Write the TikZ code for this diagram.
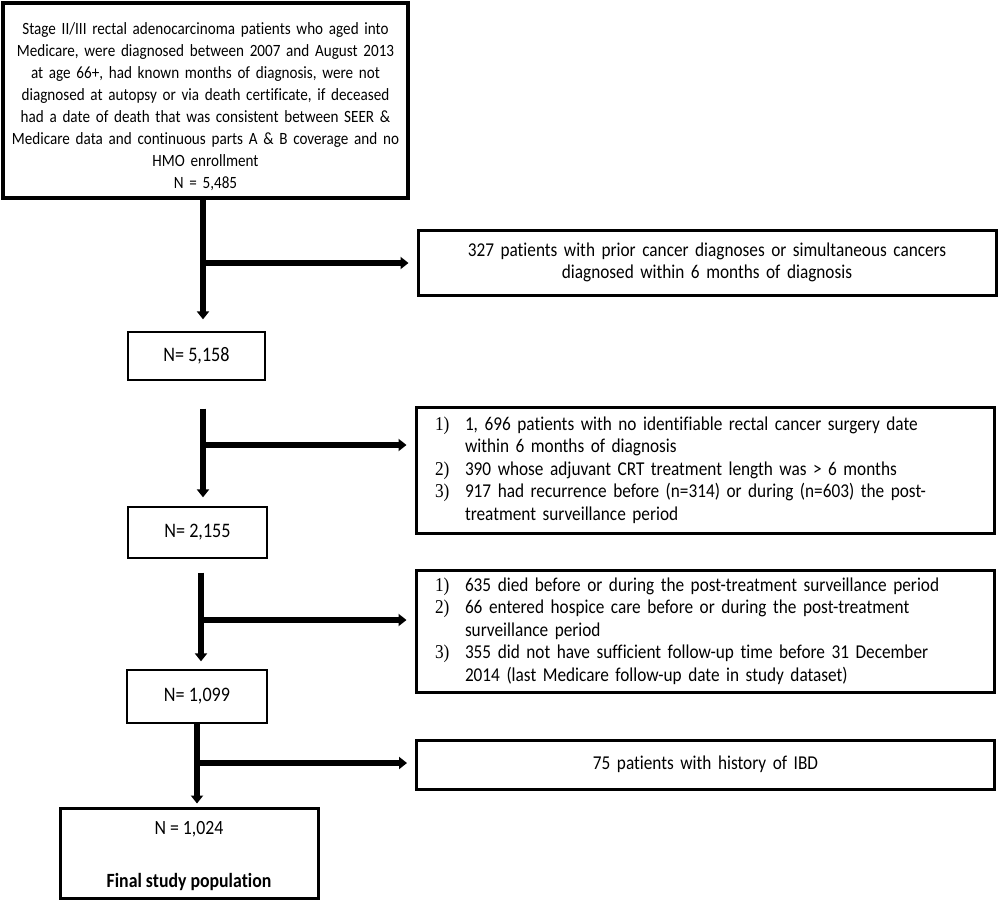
\documentclass[tikz,border=0pt]{standalone}
\usepackage{fontspec}
\setmainfont[FakeStretch=0.88,Ligatures=NoCommon]{Carlito}
\newfontfamily\numfont[FakeStretch=0.88]{Liberation Serif}
\usetikzlibrary{arrows.meta}
\newcommand{\lbl}[1]{\makebox[30pt][l]{\numfont #1}}
\newcommand{\ind}{\hspace*{30pt}}
\begin{document}
\begin{tikzpicture}[x=1pt,y=-1pt,
  box/.style={draw, rectangle, inner sep=0pt, align=center},
  mainbox/.style={box, line width=4pt, text width=404pt, minimum width=405pt, minimum height=195pt, font=\fontsize{17.2}{22.1}\selectfont},
  sidebox/.style={box, line width=3pt, text width=540pt, minimum width=578pt, font=\fontsize{19.6}{22.4}\selectfont},
  countbox/.style={box, line width=1.3pt, font=\fontsize{20.6}{22}\selectfont},
  finalbox/.style={box, line width=3pt, minimum width=258pt, minimum height=90pt, font=\fontsize{20.2}{22}\selectfont},
  flow/.style={line width=6pt, -{Triangle[width=12pt,length=8pt]}}
]
\useasboundingbox (0,0) rectangle (999,903);

\node[mainbox] (top) at (205.5,100.5) {\rule{0pt}{24pt}Stage II/III rectal adenocarcinoma patients who aged into\\
Medicare, were diagnosed between 2007 and August 2013\\
at age 66+, had known months of diagnosis, were not\\
diagnosed at autopsy or via death certificate, if deceased\\
had a date of death that was consistent between SEER \&\\
Medicare data and continuous parts A \& B coverage and no\\
HMO enrollment\\
N = 5,485};

\node[sidebox, minimum height=65pt] (r1) at (707,262.5) {327 patients with prior cancer diagnoses or simultaneous cancers\\
diagnosed within 6 months of diagnosis};

\node[countbox, minimum width=137pt, minimum height=48pt] (b1) at (196.5,356) {N= 5,158};

\node[sidebox, align=left, minimum height=126pt] (r2) at (705,470) {\lbl{1)}1, 696 patients with no identifiable rectal cancer surgery date\\
\ind within 6 months of diagnosis\\
\lbl{2)}390 whose adjuvant CRT treatment length was > 6 months\\
\lbl{3)}917 had recurrence before (n=314) or during (n=603) the post-\\
\ind treatment surveillance period};

\node[countbox, minimum width=139pt, minimum height=51pt] (b2) at (197.5,532.5) {N= 2,155};

\node[sidebox, align=left, minimum height=122pt] (r3) at (705,631) {\lbl{1)}635 died before or during the post-treatment surveillance period\\
\lbl{2)}66 entered hospice care before or during the post-treatment\\
\ind surveillance period\\
\lbl{3)}355 did not have sufficient follow-up time before 31 December\\
\ind 2014 (last Medicare follow-up date in study dataset)};

\node[countbox, minimum width=140pt, minimum height=53pt] (b3) at (197,696.5) {N= 1,099};

\node[sidebox, minimum height=49pt] (r4) at (705.5,764.5) {75 patients with history of IBD};

\node[finalbox] (fin) at (189,853) {\rule{0pt}{20pt}N = 1,024\\[31pt]\textbf{Final study population}};

\coordinate (j1) at (203,263);
\coordinate (j2) at (203,445);
\coordinate (j3) at (201,620);
\coordinate (j4) at (197,763);

\draw[flow] (top.south -| j1) -- ([yshift=12pt]b1.north -| j1);
\draw[flow] (j1) -- ([xshift=-8pt]r1.west |- j1);

\draw[flow] ([yshift=-28pt]b1.south -| j2) -- ([yshift=9pt]b2.north -| j2);
\draw[flow] (j2) -- ([xshift=-8pt]r2.west |- j2);

\draw[flow] ([yshift=-14pt]b2.south -| j3) -- ([yshift=8pt]b3.north -| j3);
\draw[flow] (j3) -- ([xshift=-8pt]r3.west |- j3);

\draw[flow] (b3.south -| j4) -- ([yshift=3pt]fin.north -| j4);
\draw[flow] (j4) -- ([xshift=-8pt]r4.west |- j4);
\end{tikzpicture}
\end{document}
